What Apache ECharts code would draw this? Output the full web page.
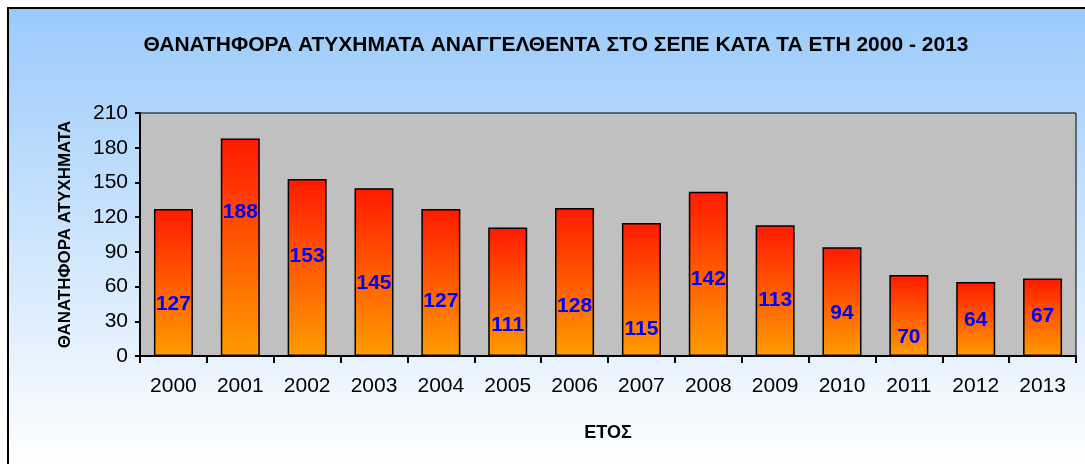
<!DOCTYPE html>
<html>
<head>
<meta charset="utf-8">
<script src="https://cdn.jsdelivr.net/npm/echarts@6/dist/echarts.min.js"></script>
<style>
  html, body { margin: 0; padding: 0; background: #fff; }
  #chart { width: 1085px; height: 464px; }
</style>
</head>
<body>
<div id="chart"></div>
<script>
const years = ['2000', '2001', '2002', '2003', '2004', '2005', '2006', '2007', '2008', '2009', '2010', '2011', '2012', '2013']
const accidents = [127, 188, 153, 145, 127, 111, 128, 115, 142, 113, 94, 70, 64, 67]
// heights (in axis units) where the value labels sit inside each bar
const labelAt = [45, 124, 86, 63, 47, 27, 43, 23, 66, 48, 37, 16, 31, 34]
const yTicks = { min: 0, max: 210, interval: 30 }

const chart = echarts.init(document.getElementById('chart'))

const options = {
  backgroundColor: '#fff',
  animation: false,
  graphic: [{
    type: 'rect',
    z: -10,
    shape: { x: 8, y: 8, width: 1100, height: 470 },
    style: {
      fill: new echarts.graphic.LinearGradient(0, 8, 0, 464, [
        { offset: 0, color: '#9ACAFA' },
        { offset: 1, color: '#FFFFFF' }
      ], true),
      stroke: '#000',
      lineWidth: 2
    }
  }],
  title: {
    text: 'ΘΑΝΑΤΗΦΟΡΑ ΑΤΥΧΗΜΑΤΑ ΑΝΑΓΓΕΛΘΕΝΤΑ ΣΤΟ ΣΕΠΕ ΚΑΤΑ ΤΑ ΕΤΗ 2000 - 2013',
    left: 551,
    textAlign: 'center',
    top: 30,
    textStyle: { fontFamily: 'Arial', fontWeight: 'bold', fontSize: 21, color: '#000' }
  },
  grid: {
    left: 140, right: 9, top: 113, bottom: 108,
    show: true, backgroundColor: '#C0C0C0', borderColor: '#000', borderWidth: 1
  },
  xAxis: {
    type: 'category',
    data: years,
    name: 'ΕΤΟΣ',
    nameLocation: 'middle',
    nameGap: 68,
    nameTextStyle: { fontFamily: 'Arial', fontWeight: 'bold', fontSize: 18, color: '#000' },
    axisLine: { lineStyle: { color: '#000', width: 2 } },
    axisTick: { show: true, alignWithLabel: false, length: 7, lineStyle: { color: '#000', width: 2 } },
    axisLabel: { color: '#000', fontFamily: 'Arial', fontSize: 21, margin: 20 }
  },
  yAxis: {
    type: 'value',
    min: yTicks.min, max: yTicks.max, interval: yTicks.interval,
    name: 'ΘΑΝΑΤΗΦΟΡΑ ΑΤΥΧΗΜΑΤΑ',
    nameLocation: 'middle',
    nameGap: 66,
    nameTextStyle: { fontFamily: 'Arial', fontWeight: 'bold', fontSize: 17, color: '#000' },
    axisLine: { show: true, lineStyle: { color: '#000', width: 2 } },
    axisTick: { show: true, length: 5, lineStyle: { color: '#000', width: 2 } },
    splitLine: { show: false },
    axisLabel: { color: '#000', fontFamily: 'Arial', fontSize: 21, margin: 12 }
  },
  series: [
    {
      type: 'bar',
      data: accidents,
      barWidth: 39,
      itemStyle: {
        color: new echarts.graphic.LinearGradient(0, 0, 0, 1, [
          { offset: 0, color: '#FF1A00' },
          { offset: 1, color: '#FF9C00' }
        ]),
        borderColor: '#000',
        borderWidth: 1.5
      }
    },
    {
      type: 'scatter',
      data: labelAt,
      symbolSize: 1,
      itemStyle: { color: 'rgba(0,0,0,0)', opacity: 1 },
      z: 5,
      label: {
        show: true,
        position: 'inside',
        formatter: p => accidents[p.dataIndex],
        color: '#0000FF',
        textBorderWidth: 0,
        opacity: 1,
        fontFamily: 'Arial',
        fontWeight: 'bold',
        fontSize: 21
      }
    }
  ]
}

chart.setOption(options)
</script>
</body>
</html>
